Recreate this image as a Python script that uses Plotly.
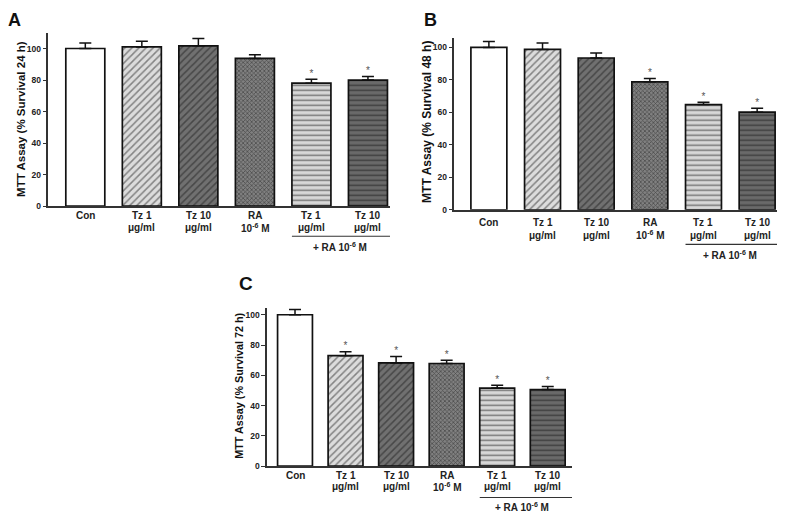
import plotly.graph_objects as go

# ---- data ----
label_line1 = ["Con", "Tz 1", "Tz 10", "RA", "Tz 1", "Tz 10"]
label_line2 = ["", "μg/ml", "μg/ml", "10<sup>-6</sup> M", "μg/ml", "μg/ml"]
a_vals = [100, 101, 101.7, 93.7, 78, 80]
a_err = [3.5, 3.6, 4.6, 2.3, 2.5, 2.3]
a_sig = [False, False, False, False, True, True]

b_vals = [100, 98.8, 93.5, 78.8, 64.8, 60.1]
b_err = [3.7, 3.9, 3.1, 2.0, 1.5, 2.5]
b_sig = [False, False, False, True, True, True]

c_vals = [100, 73, 68.2, 67.8, 51.6, 50.6]
c_err = [3.5, 2.6, 4.3, 2.2, 1.8, 2.0]
c_sig = [False, True, True, True, True, True]

y_titles = ["MTT Assay (% Survival 24 h)", "MTT Assay (% Survival 48 h)",
            "MTT Assay (% Survival 72 h)"]
panel_letters = ["A", "B", "C"]
group_label = "+ RA 10<sup>-6</sup> M"
y_ticks = [0, 20, 40, 60, 80, 100]

# ---- styles ----
shapes_pat = ["", "/", "/", "x", "-", "-"]
pat_size = [5, 5, 5, 3, 5, 5]
pat_sol = [0.3, 0.3, 0.3, 0.45, 0.3, 0.3]
bgcols = ["white", "#dcdcdc", "#707070", "#808080", "#d8d8d8", "#6a6a6a"]
fgcols = ["white", "#2a2a2a", "#1e1e1e", "#1a1a1a", "#111111", "#111111"]
FONT = "Liberation Sans, Arial, sans-serif"

OFF = 8  # page body margin
W, H = 792 - OFF, 525 - OFF


def px(x):
    return (x - OFF) / W


def py(y):
    return 1 - (y - OFF) / H


panels = [
    (a_vals, a_err, a_sig, (48, 390), (33, 208), [-0.66, 5.39], [0, 110], 0.69),
    (b_vals, b_err, b_sig, (454, 777), (38, 211.7), [-0.65, 5.37], [0, 106], 0.67),
    (c_vals, c_err, c_sig, (266.7, 572), (310.7, 470.7), [-0.56, 5.48], [0, 104.6], 0.69),
]
letter_pos = [(14.5, 8), (430.5, 8), (246, 274)]
letter_size = [18, 18, 19]
title_pos = [(21, 120), (427, 123), (239.5, 389)]
title_size = [11.5, 12, 10.8]
line1_y = [218, 225, 480]
line2_y = [230, 237.7, 491.5]
bracket_y = [238.5, 246.7, 502.3]
group_y = [249, 257.7, 512.3]

fig = go.Figure()
xs = list(range(len(label_line1)))
for i, (vals, err, sig, xp, yp, xr, yr, bw) in enumerate(panels):
    n = "" if i == 0 else str(i + 1)
    for k in xs:
        fig.add_trace(go.Bar(
            x=[k], y=[vals[k]], width=bw,
            xaxis="x" + n, yaxis="y" + n,
            marker=dict(color=bgcols[k], line=dict(color="#111111", width=1.7),
                        pattern=dict(shape=shapes_pat[k], bgcolor=bgcols[k],
                                     fgcolor=fgcols[k], size=pat_size[k],
                                     solidity=pat_sol[k], fillmode="overlay")),
            error_y=dict(type="data", array=[err[k]], arrayminus=[0], symmetric=False,
                         color="#111111", thickness=1.5, width=6),
            showlegend=False, hoverinfo="skip",
        ))
    sx = [x for x, s in zip(xs, sig) if s]
    sy = [v + e for v, e, s in zip(vals, err, sig) if s]
    fig.add_trace(go.Scatter(
        x=sx, y=sy, mode="text", text=["*"] * len(sx), textposition="top center",
        textfont=dict(family=FONT, size=10, color="#555555"),
        xaxis="x" + n, yaxis="y" + n, showlegend=False, hoverinfo="skip",
    ))
    fig.update_layout(**{
        "xaxis" + n: dict(domain=[px(xp[0]), px(xp[1])], range=xr, anchor="y" + n,
                          tickvals=xs, showticklabels=False, ticks="",
                          showline=True, linecolor="#333333", linewidth=1.5,
                          showgrid=False, zeroline=False),
        "yaxis" + n: dict(domain=[py(yp[1]), py(yp[0])], range=yr, anchor="x" + n,
                          tickvals=y_ticks, ticks="outside", ticklen=3.5, tickwidth=1.2,
                          tickcolor="#333333",
                          showline=True, linecolor="#333333", linewidth=1.5,
                          showgrid=False, zeroline=False,
                          tickfont=dict(family=FONT, size=8.5, color="#222222",
                                        weight="bold")),
    })
    lab_font = dict(family=FONT, size=10, color="#222222", weight="bold")
    for k in xs:
        fig.add_annotation(xref="x" + n, yref="paper", x=k, y=py(line1_y[i]),
                           text=label_line1[k], showarrow=False, yanchor="middle",
                           font=lab_font)
        if label_line2[k]:
            fig.add_annotation(xref="x" + n, yref="paper", x=k, y=py(line2_y[i]),
                               text=label_line2[k], showarrow=False, yanchor="middle",
                               font=lab_font)
    tx, ty = title_pos[i]
    fig.add_annotation(xref="paper", yref="paper", x=px(tx), y=py(ty),
                       text=y_titles[i], textangle=-90, showarrow=False,
                       xanchor="center", yanchor="middle",
                       font=dict(family=FONT, size=title_size[i], color="#111111",
                                 weight="bold"))
    fig.add_shape(type="line", xref="x" + n, yref="paper",
                  x0=4 - bw / 2, x1=xr[1], y0=py(bracket_y[i]), y1=py(bracket_y[i]),
                  line=dict(color="#333333", width=1.2))
    fig.add_annotation(xref="x" + n, yref="paper", x=4.5, y=py(group_y[i]),
                       text=group_label, showarrow=False, yanchor="middle",
                       font=lab_font)
    lx, ly = letter_pos[i]
    fig.add_annotation(xref="paper", yref="paper", x=px(lx), y=min(1.0, py(ly)),
                       text=panel_letters[i], showarrow=False,
                       xanchor="center", yanchor="top",
                       font=dict(family=FONT, size=letter_size[i], color="#111111",
                                 weight="bold"))

fig.update_layout(width=W, height=H, margin=dict(l=0, r=0, t=0, b=0),
                  plot_bgcolor="white", paper_bgcolor="white", barmode="overlay")
fig.write_html("out.html")
